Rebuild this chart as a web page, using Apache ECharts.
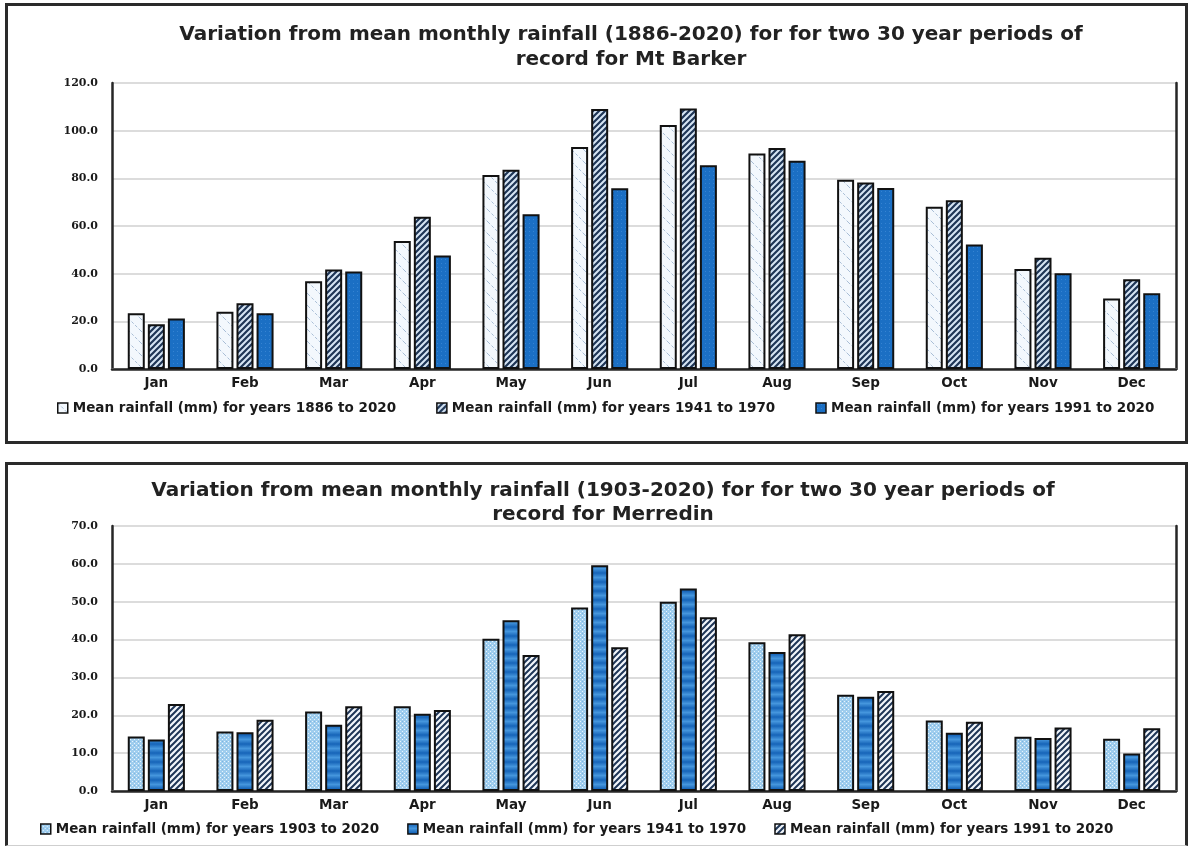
<!DOCTYPE html>
<html>
<head>
<meta charset="utf-8">
<script src="https://cdn.jsdelivr.net/npm/echarts@6/dist/echarts.min.js"></script>
<style>
  html, body { margin: 0; padding: 0; background: #ffffff; }
  body { width: 1188px; height: 846px; position: relative; overflow: hidden; }
  .box { position: absolute; box-sizing: border-box; background: #fff; }
  #c1 { left: 5px; top: 3px; width: 1183px; height: 441px; border: 3px solid #2a2a2a; }
  #c2 { left: 5px; top: 462px; width: 1183px; height: 384px; border: 3px solid #2a2a2a; border-bottom: 1px solid #cfcfcf; }
  .inner { width: 100%; height: 100%; }
</style>
</head>
<body>
<div id="c1" class="box"><div id="p1" class="inner"></div></div>
<div id="c2" class="box"><div id="p2" class="inner"></div></div>
<script>
// ---------------- DATA ----------------
const months = ['Jan','Feb','Mar','Apr','May','Jun','Jul','Aug','Sep','Oct','Nov','Dec'];

const title1 = 'Variation from mean monthly rainfall (1886-2020) for for two 30 year periods of\nrecord for Mt Barker';
const barkerNames = [
  'Mean rainfall (mm) for years 1886 to 2020',
  'Mean rainfall (mm) for years 1941 to 1970',
  'Mean rainfall (mm) for years 1991 to 2020'
];
const barker1886 = [23.4, 24.0, 36.8, 53.7, 81.4, 93.1, 102.4, 90.4, 79.4, 68.1, 42.0, 29.6];
const barker1941 = [18.8, 27.6, 41.7, 63.9, 83.6, 109.1, 109.3, 92.7, 78.3, 70.8, 46.7, 37.7];
const barker1991 = [21.2, 23.4, 40.9, 47.6, 64.9, 75.8, 85.5, 87.4, 75.9, 52.2, 40.2, 31.8];
const barkerTicks = { min: 0, max: 120, interval: 20 };

const title2 = 'Variation from mean monthly rainfall (1903-2020) for for two 30 year periods of\nrecord for Merredin';
const merredinNames = [
  'Mean rainfall (mm) for years 1903 to 2020',
  'Mean rainfall (mm) for years 1941 to 1970',
  'Mean rainfall (mm) for years 1991 to 2020'
];
const merredin1903 = [14.4, 15.7, 21.0, 22.4, 40.2, 48.5, 50.0, 39.3, 25.4, 18.6, 14.3, 13.8];
const merredin1941 = [13.6, 15.5, 17.5, 20.4, 45.1, 59.6, 53.5, 36.7, 24.9, 15.4, 14.0, 9.9];
const merredin1991 = [23.0, 18.8, 22.4, 21.4, 35.9, 38.0, 45.9, 41.4, 26.4, 18.3, 16.8, 16.6];
const merredinTicks = { min: 0, max: 70, interval: 10 };

// ---------------- PATTERNS ----------------
function pat(w, h, draw) {
  const c = document.createElement('canvas');
  c.width = w; c.height = h;
  const g = c.getContext('2d');
  draw(g, w, h);
  return { image: c, repeat: 'repeat' };
}
function diagUp(bg, fg, s, lw) {
  return pat(s, s, (g) => {
    g.fillStyle = bg; g.fillRect(0, 0, s, s);
    g.strokeStyle = fg; g.lineWidth = lw; g.lineCap = 'square';
    g.beginPath();
    g.moveTo(0, s); g.lineTo(s, 0);
    g.moveTo(-s / 2, s / 2); g.lineTo(s / 2, -s / 2);
    g.moveTo(s / 2, s + s / 2); g.lineTo(s + s / 2, s / 2);
    g.stroke();
  });
}
// top chart
const patLightDash = pat(12, 12, (g) => {
  g.fillStyle = '#f3f8fd'; g.fillRect(0, 0, 12, 12);
  g.strokeStyle = '#a9bed6'; g.lineWidth = 1;
  g.setLineDash([3, 2]);
  g.beginPath(); g.moveTo(0, 0); g.lineTo(12, 12); g.stroke();
});
const patDarkStripe = diagUp('#d6e5f4', '#1e3556', 6, 2.2);
const patSolidBlue = pat(4, 4, (g) => {
  g.fillStyle = '#1b6fc4'; g.fillRect(0, 0, 4, 4);
  g.fillStyle = '#3583d2'; g.fillRect(1, 1, 1, 1);
});
// bottom chart
const patDots = pat(4, 4, (g) => {
  g.fillStyle = '#9fcdee'; g.fillRect(0, 0, 4, 4);
  g.fillStyle = '#e8f4fc'; g.fillRect(0, 0, 1, 1); g.fillRect(2, 2, 1, 1);
  g.fillStyle = '#7fb6e0'; g.fillRect(2, 0, 1, 1);
});
const patBands = pat(4, 9, (g) => {
  const gr = g.createLinearGradient(0, 0, 0, 9);
  gr.addColorStop(0, '#1664b8');
  gr.addColorStop(0.5, '#4596dd');
  gr.addColorStop(1, '#1664b8');
  g.fillStyle = gr; g.fillRect(0, 0, 4, 9);
});
const patWhiteStripe = diagUp('#f2f6fb', '#1e3556', 6, 2);

// ---------------- BUILD ----------------
const dark = '#262626';
const legendFont = { fontFamily: 'DejaVu Sans', fontWeight: 'bold', fontSize: 13.5, color: '#1a1a1a' };

function makeOption(cfg) {
  const series = cfg.values.map((vals, i) => ({
    name: cfg.names[i],
    type: 'bar',
    xAxisIndex: 0, yAxisIndex: 0,
    data: vals,
    barWidth: 17,
    barGap: '18%',
    itemStyle: { color: cfg.fills[i], borderColor: '#111', borderWidth: 2 },
    emphasis: { disabled: true }
  }));
  return {
    animation: false,
    backgroundColor: '#fff',
    title: {
      text: cfg.title,
      left: cfg.titleX, top: cfg.titleTop,
      textAlign: 'center',
      textStyle: { fontFamily: 'DejaVu Sans', fontWeight: 'bold', fontSize: 20, lineHeight: cfg.titleLH, color: '#222' }
    },
    legend: {
      data: cfg.names,
      left: cfg.legendLeft, top: cfg.legendTop,
      itemWidth: 10, itemHeight: 10, itemGap: cfg.legendGap,
      icon: 'rect',
      itemStyle: { borderColor: '#111', borderWidth: 1.5 },
      textStyle: legendFont,
      selectedMode: false
    },
    grid: { left: 104, right: 9, top: cfg.gridTop, bottom: cfg.gridBottom, containLabel: false },
    xAxis: [
      {
        type: 'category', data: months, position: 'bottom',
        axisLine: { show: true, lineStyle: { color: '#d9d9d9', width: 2 } },
        axisTick: { show: false },
        axisLabel: { margin: 7, fontFamily: 'DejaVu Sans', fontWeight: 'bold', fontSize: 13.5, color: '#1a1a1a' },
        splitLine: { show: false }
      },
      {
        type: 'category', data: months, position: 'top',
        axisLine: { show: true, lineStyle: { color: dark, width: 2.5 } },
        axisTick: { show: false }, axisLabel: { show: false }, splitLine: { show: false }
      }
    ],
    yAxis: [
      {
        type: 'value', min: cfg.ticks.min, max: cfg.ticks.max, interval: cfg.ticks.interval,
        axisLine: { show: true, lineStyle: { color: dark, width: 2.5 } },
        axisTick: { show: false },
        axisLabel: { margin: 14, formatter: (v) => v.toFixed(1), fontFamily: 'DejaVu Serif', fontWeight: 'bold', fontSize: 11, color: '#1a1a1a' },
        splitLine: { show: true, lineStyle: { color: '#dcdcdc', width: 2 } }
      },
      {
        type: 'value', min: cfg.ticks.min, max: cfg.ticks.max, interval: cfg.ticks.interval, position: 'right',
        axisLine: { show: true, lineStyle: { color: dark, width: 2.5 } },
        axisTick: { show: false }, axisLabel: { show: false }, splitLine: { show: false }
      }
    ],
    series: series
  };
}

const chart1 = echarts.init(document.getElementById('p1'), null, { renderer: 'canvas' });
chart1.setOption(makeOption({
  title: title1, titleX: 618, titleTop: 11, titleLH: 25,
  names: barkerNames,
  values: [barker1886, barker1941, barker1991],
  fills: [patLightDash, patDarkStripe, patSolidBlue],
  ticks: barkerTicks,
  gridTop: 77, gridBottom: 72,
  legendLeft: 44, legendTop: 390, legendGap: 40
}));

const chart2 = echarts.init(document.getElementById('p2'), null, { renderer: 'canvas' });
chart2.setOption(makeOption({
  title: title2, titleX: 590, titleTop: 9, titleLH: 24,
  names: merredinNames,
  values: [merredin1903, merredin1941, merredin1991],
  fills: [patDots, patBands, patWhiteStripe],
  ticks: merredinTicks,
  gridTop: 61, gridBottom: 54,
  legendLeft: 27, legendTop: 352, legendGap: 28
}));
</script>
</body>
</html>
